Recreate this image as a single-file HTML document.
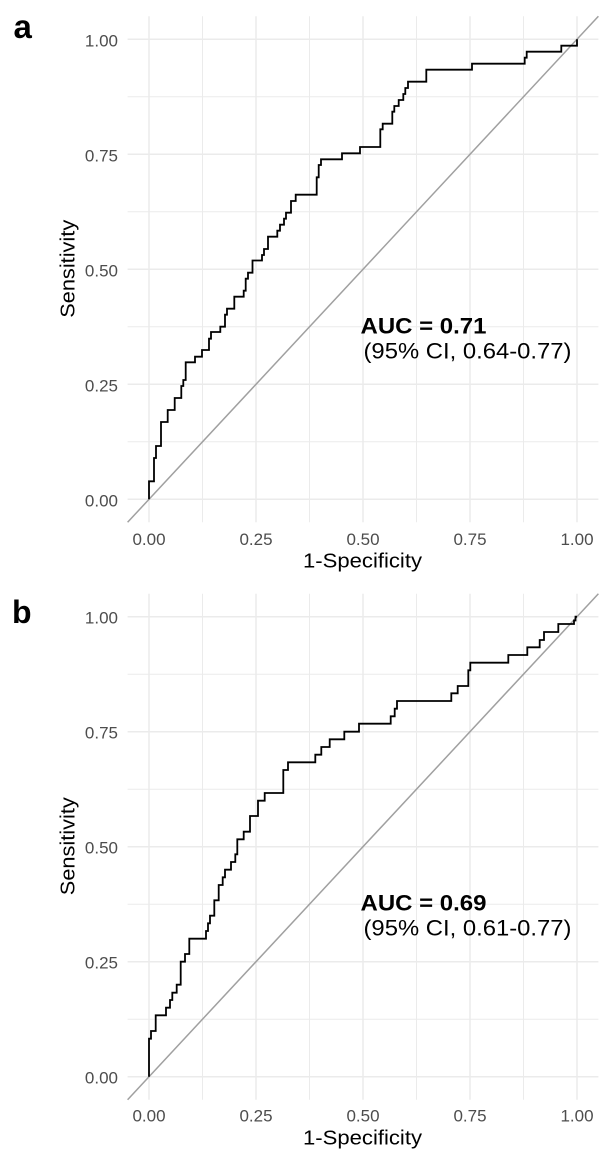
<!DOCTYPE html>
<html>
<head>
<meta charset="utf-8">
<style>
  html, body { margin: 0; padding: 0; background: #ffffff; }
  svg { display: block; }
  text { font-family: "Liberation Sans", Arial, sans-serif; }
</style>
</head>
<body>
<svg width="612" height="1168" viewBox="0 0 612 1168" xmlns="http://www.w3.org/2000/svg">
  <rect x="0" y="0" width="612" height="1168" fill="#ffffff"/>

  <!-- ================= PANEL A ================= -->
  <g>
    <g stroke="#EBEBEB" stroke-width="1">
      <line x1="202.5" y1="16.3" x2="202.5" y2="522.3"/>
      <line x1="309.5" y1="16.3" x2="309.5" y2="522.3"/>
      <line x1="416.5" y1="16.3" x2="416.5" y2="522.3"/>
      <line x1="523.5" y1="16.3" x2="523.5" y2="522.3"/>
      <line x1="127.6" y1="441.8" x2="598.4" y2="441.8"/>
      <line x1="127.6" y1="326.8" x2="598.4" y2="326.8"/>
      <line x1="127.6" y1="211.8" x2="598.4" y2="211.8"/>
      <line x1="127.6" y1="96.8" x2="598.4" y2="96.8"/>
    </g>
    <g stroke="#EBEBEB" stroke-width="1.5">
      <line x1="149" y1="16.3" x2="149" y2="522.3"/>
      <line x1="256" y1="16.3" x2="256" y2="522.3"/>
      <line x1="363" y1="16.3" x2="363" y2="522.3"/>
      <line x1="470" y1="16.3" x2="470" y2="522.3"/>
      <line x1="577" y1="16.3" x2="577" y2="522.3"/>
      <line x1="127.6" y1="499.3" x2="598.4" y2="499.3"/>
      <line x1="127.6" y1="384.3" x2="598.4" y2="384.3"/>
      <line x1="127.6" y1="269.3" x2="598.4" y2="269.3"/>
      <line x1="127.6" y1="154.3" x2="598.4" y2="154.3"/>
      <line x1="127.6" y1="39.3" x2="598.4" y2="39.3"/>
    </g>
    <line x1="127.6" y1="522.3" x2="598.4" y2="16.3" stroke="#A0A0A0" stroke-width="1.5"/>
    <path fill="none" stroke="#000000" stroke-width="1.8" stroke-linejoin="miter"
      d="M149,499.3 V481.3 H154 V458 H156 V446 H161 V422 H167.7 V410 H174.7 V398 H181.3 V386 H183.3 V380 H185.7 V362.3 H195 V356.7 H202 V350 H209 V338.7 H211 V332 H220.3 V326.7 H225 V314.7 H227 V308.7 H234.3 V296.7 H243.7 V290.7 H245.7 V278.7 H248 V272.7 H252.5 V260.5 H262 V255 H264 V249 H268 V236.7 H277.3 V230.7 H280 V224.7 H284 V218.7 H286 V212.7 H291 V201 H295.7 V194.7 H316.7 V177.3 H318.7 V165 H321 V159.3 H342 V153.3 H360 V147 H380.3 V129.3 H382.7 V123.7 H392.3 V111.7 H394.3 V106 H398.7 V100 H403.3 V94 H405.3 V88 H408 V81.7 H426.3 V69.7 H472 V63.7 H524.7 V57.7 H526.7 V51.7 H561.3 V45.7 H577 V39.3"/>

    <g fill="#4D4D4D" font-size="17" text-anchor="end">
      <text x="118" y="506.3">0.00</text>
      <text x="118" y="391.3">0.25</text>
      <text x="118" y="276.3">0.50</text>
      <text x="118" y="161.3">0.75</text>
      <text x="118" y="46.3">1.00</text>
    </g>
    <g fill="#4D4D4D" font-size="17" text-anchor="middle">
      <text x="149" y="545">0.00</text>
      <text x="256" y="545">0.25</text>
      <text x="363" y="545">0.50</text>
      <text x="470" y="545">0.75</text>
      <text x="577" y="545">1.00</text>
    </g>
    <text x="303" y="567.3" font-size="20" fill="#000" textLength="119" lengthAdjust="spacingAndGlyphs">1-Specificity</text>
    <text transform="translate(74.5,317.8) rotate(-90)" font-size="20" fill="#000" textLength="98" lengthAdjust="spacingAndGlyphs">Sensitivity</text>

    <text x="360.5" y="333.3" font-size="22.5" font-weight="bold" fill="#000" textLength="126" lengthAdjust="spacingAndGlyphs">AUC = 0.71</text>
    <text x="363.5" y="358.3" font-size="22.5" fill="#000" textLength="208" lengthAdjust="spacingAndGlyphs">(95% CI, 0.64-0.77)</text>

    <text x="13.5" y="37.8" font-size="33" font-weight="bold" fill="#000">a</text>
  </g>

  <!-- ================= PANEL B ================= -->
  <g>
    <g stroke="#EBEBEB" stroke-width="1">
      <line x1="202.5" y1="593.7" x2="202.5" y2="1099.7"/>
      <line x1="309.5" y1="593.7" x2="309.5" y2="1099.7"/>
      <line x1="416.5" y1="593.7" x2="416.5" y2="1099.7"/>
      <line x1="523.5" y1="593.7" x2="523.5" y2="1099.7"/>
      <line x1="127.6" y1="1019.2" x2="598.4" y2="1019.2"/>
      <line x1="127.6" y1="904.2" x2="598.4" y2="904.2"/>
      <line x1="127.6" y1="789.2" x2="598.4" y2="789.2"/>
      <line x1="127.6" y1="674.2" x2="598.4" y2="674.2"/>
    </g>
    <g stroke="#EBEBEB" stroke-width="1.5">
      <line x1="149" y1="593.7" x2="149" y2="1099.7"/>
      <line x1="256" y1="593.7" x2="256" y2="1099.7"/>
      <line x1="363" y1="593.7" x2="363" y2="1099.7"/>
      <line x1="470" y1="593.7" x2="470" y2="1099.7"/>
      <line x1="577" y1="593.7" x2="577" y2="1099.7"/>
      <line x1="127.6" y1="1076.7" x2="598.4" y2="1076.7"/>
      <line x1="127.6" y1="961.7" x2="598.4" y2="961.7"/>
      <line x1="127.6" y1="846.7" x2="598.4" y2="846.7"/>
      <line x1="127.6" y1="731.7" x2="598.4" y2="731.7"/>
      <line x1="127.6" y1="616.7" x2="598.4" y2="616.7"/>
    </g>
    <line x1="127.6" y1="1099.7" x2="598.4" y2="593.7" stroke="#A0A0A0" stroke-width="1.5"/>
    <path fill="none" stroke="#000000" stroke-width="1.8" stroke-linejoin="miter"
      d="M149,1076.7 V1038.7 H151 V1031 H155.7 V1015.3 H166 V1007.7 H170 V1000 H172.3 V992.7 H176.7 V984.7 H180.7 V961.7 H185 V954 H189.3 V938.7 H206 V931 H208 V923.3 H210 V915.7 H214.3 V900.3 H218.7 V885 H222.7 V877.3 H225 V869.7 H231 V862 H235.3 V854.3 H237.3 V839.3 H243.7 V831.7 H250 V816 H258 V800.7 H264.7 V793 H283.3 V770 H288 V762.3 H315.3 V754.7 H321.3 V747 H329.7 V739.3 H344.3 V731.7 H359 V723.7 H390.7 V716.3 H394.7 V708.7 H397 V701 H451.3 V693.3 H457.7 V686 H468.3 V670.3 H470.3 V662.7 H508.3 V655 H527.3 V647.3 H539.7 V640 H544 V632 H558.3 V624 H574 V620.5 H575.5 V616.7 H577"/>

    <g fill="#4D4D4D" font-size="17" text-anchor="end">
      <text x="118" y="1083.7">0.00</text>
      <text x="118" y="968.7">0.25</text>
      <text x="118" y="853.7">0.50</text>
      <text x="118" y="738.7">0.75</text>
      <text x="118" y="623.7">1.00</text>
    </g>
    <g fill="#4D4D4D" font-size="17" text-anchor="middle">
      <text x="149" y="1121.7">0.00</text>
      <text x="256" y="1121.7">0.25</text>
      <text x="363" y="1121.7">0.50</text>
      <text x="470" y="1121.7">0.75</text>
      <text x="577" y="1121.7">1.00</text>
    </g>
    <text x="303" y="1144.7" font-size="20" fill="#000" textLength="119" lengthAdjust="spacingAndGlyphs">1-Specificity</text>
    <text transform="translate(74.5,895.2) rotate(-90)" font-size="20" fill="#000" textLength="98" lengthAdjust="spacingAndGlyphs">Sensitivity</text>

    <text x="360.5" y="910.7" font-size="22.5" font-weight="bold" fill="#000" textLength="126" lengthAdjust="spacingAndGlyphs">AUC = 0.69</text>
    <text x="363.5" y="935.7" font-size="22.5" fill="#000" textLength="208" lengthAdjust="spacingAndGlyphs">(95% CI, 0.61-0.77)</text>

    <text x="12" y="623" font-size="32" font-weight="bold" fill="#000">b</text>
  </g>
</svg>
</body>
</html>
